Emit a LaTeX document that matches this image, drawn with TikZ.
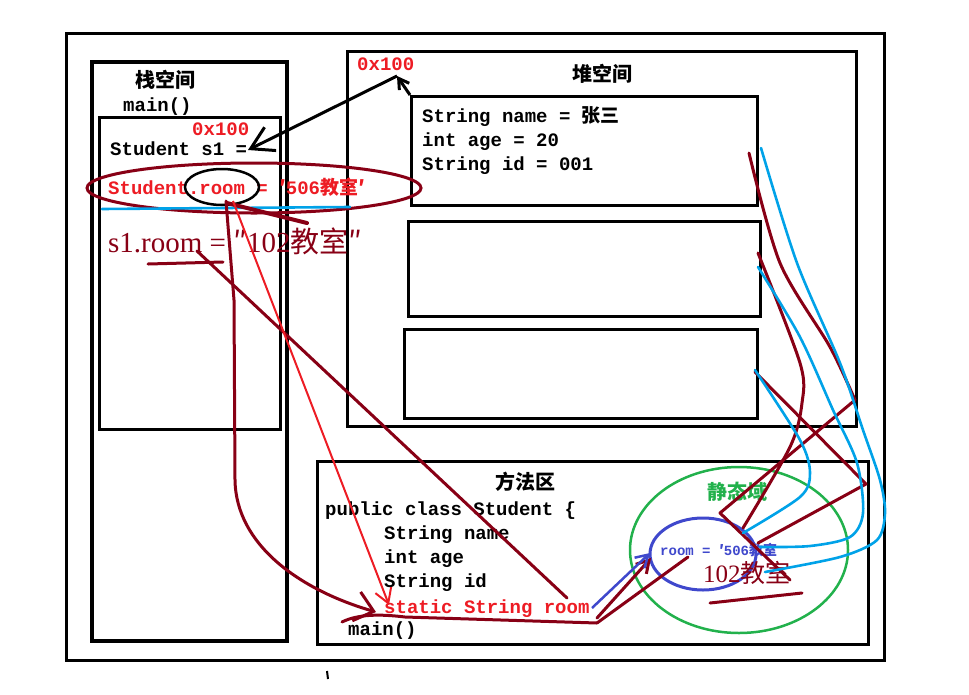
\documentclass[tikz,border=0pt]{standalone}
\usepackage{fontspec}
\setmainfont{Liberation Serif}
\setmonofont{Liberation Mono}
\newfontfamily\cjk{Noto Sans CJK SC}
\usetikzlibrary{shapes.geometric,arrows.meta,positioning,calc}
\definecolor{dkred}{HTML}{880015}
\definecolor{pred}{HTML}{ED1C24}
\definecolor{sky}{HTML}{00A2E8}
\definecolor{ink}{HTML}{3F48CC}
\definecolor{leaf}{HTML}{22B14C}
\newcommand\zh[1]{{\cjk #1}}

\begin{document}
\begin{tikzpicture}[x=1pt,y=-1pt,
    box/.style={draw=black, line width=3pt, rectangle, inner sep=0pt, anchor=north west},
    code/.style={font=\fontsize{19}{24}\selectfont\ttfamily\bfseries, anchor=base west, inner sep=0pt},
    title/.style={font=\cjk\bfseries\fontsize{20}{24}\selectfont, inner sep=0pt},
    hand/.style={font=\fontsize{29}{31}\selectfont, text=dkred, anchor=base west, inner sep=0pt},
    pen/.style={draw=dkred, line width=3pt, line cap=round, line join=round},
    sketch/.style={draw=sky, line width=2.6pt, line cap=round, line join=round},
    barb/.style={-{Straight Barb[length=#1, width=1.2*#1]}}
]
\useasboundingbox (0,0) rectangle (969,694);

\node[box, minimum width=818, minimum height=627] (frame) at (65,32) {};
\node[box, line width=3.5pt, minimum width=195, minimum height=579] (stack) at (90,60) {};
\node[box, minimum width=181, minimum height=312] (mainframe) at (98,116) {};
\node[box, minimum width=509, minimum height=375] (heap) at (346,50) {};
\node[box, minimum width=346, minimum height=109] (obj1) at (410,95) {};
\node[box, minimum width=352, minimum height=95] (obj2) at (407,220) {};
\node[box, minimum width=353, minimum height=89] (obj3) at (403,328) {};
\node[box, minimum width=551, minimum height=183] (method) at (316,460) {};

\node[title] (stacktitle) at (165,80) {栈空间};
\node[code] (stackmain) at (123,111) {main()};
\node[code, text=pred] (addr1) at (192,135) {0x100};
\node[code] (s1) at (110,155) {Student s1 =};
\node[code, text=pred] (sroom) at (108,194) {Student.room = \zh{′}506\zh{教室′}};
\node[hand] (s1room) at (108,252) {s1.room = \zh{″}102\zh{教室″}};

\node[code, text=pred] (addr2) at (357,70) {0x100};
\node[title] (heaptitle) at (602,74) {堆空间};
\node[code] (name) at (422,122) {String name = \zh{张三}};
\node[code] (age) at (422,146) {int age = 20};
\node[code] (id) at (422,170) {String id = 001};

\node[title] (methodtitle) at (525,482) {方法区};
\node[code] (cls) at (325,515) {public class Student \{};
\node[code] (fname) at (384,539) {String name};
\node[code] (fage) at (384,563) {int age};
\node[code] (fid) at (384,587) {String id};
\node[code, text=pred] (froom) at (384,613) {static String room};
\node[code] (mmain) at (348,635) {main()};

\node[ellipse, draw=leaf, line width=2.5pt, minimum width=218, minimum height=166] (staticarea) at (739,550) {};
\node[title, text=leaf] (statictitle) at (737,492) {静态域};
\node[ellipse, draw=ink, line width=3pt, minimum width=106, minimum height=72] (slot) at (703,554) {};
\node[code, text=ink, font=\fontsize{14}{16}\selectfont\ttfamily\bfseries] (slotval) at (660,555) {room = \zh{′}506\zh{教室}};
\node[hand, font=\fontsize{25}{28}\selectfont] (newval) at (703,582) {102\zh{教室}};

\node[ellipse, draw=dkred, line width=3pt, minimum width=334, minimum height=50] (ring) at (254,188) {};
\node[ellipse, draw=black, line width=2.5pt, minimum width=74, minimum height=36] (hole) at (222,187) {};

\coordinate (apex) at (397,76);
\coordinate (s1tip) at (248,150);
\coordinate (holefoot) at (226,201);
\coordinate (redfoot) at (233,201);
\coordinate (froomtip) at (376,612);
\coordinate (redtip) at (389,605);
\coordinate (s1foot) at (197,251);
\coordinate (roomend) at (567,598);
\coordinate (roomtail) at (592,608);
\coordinate (mainleft) at (342,622);
\coordinate (hub) at (597,623);
\coordinate (slotin) at (688,557);
\coordinate (slottip) at (651,558);
\coordinate (slotedge) at (650,553);

\draw[line width=3pt, barb=10pt] (obj1.north west) -- (apex);
\draw[line width=3pt, -{Straight Barb[length=22pt,width=26pt]}] (apex) -- (s1tip);

\draw[sketch] (102,209) -- (350,207);
\draw[pen, line width=4pt] (227,203) -- (307,223);
\draw[pen] (148,264) -- (223,262);
\draw[pen] (s1foot) -- (roomend);
\draw[draw=pred, line width=2pt, barb=14pt] (redfoot) -- (redtip);
\draw[pen, -{Straight Barb[length=18pt,width=30pt]}] (holefoot) -- (234,300) -- (235,480) .. controls (236,545) and (300,590) .. (froomtip);
\draw[pen] (mainleft) .. controls (358,614) and (380,614) .. (405,617) -- (hub);
\draw[pen] (hub) -- (slotin);
\draw[pen, barb=12pt] ($(hub)+(0,-5)$) -- (slottip);
\draw[draw=ink, line width=2.5pt, barb=12pt] (roomtail) -- (slotedge);
\draw[pen] (710,603) -- (802,593);

\draw[pen] plot[smooth, tension=0.5] coordinates {(749,153) (780,263) (830,347) (855,400)} -- (720,513) -- (790,580);
\draw[pen] plot[smooth, tension=0.5] coordinates {(758,253) (800,363) (802,403) (790,447) (743,528)};
\draw[pen] (755,372) -- (866,484) -- (758,543);
\draw[sketch] plot[smooth, tension=0.5] coordinates {(761,148) (797,263) (840,363) (863,430) (880,480) (885,513) (877,540) (840,557) (765,572)};
\draw[sketch] plot[smooth, tension=0.5] coordinates {(758,267) (800,337) (833,410) (857,463) (863,513) (850,537) (810,546) (760,547)};
\draw[sketch] plot[smooth, tension=0.5] coordinates {(755,370) (800,440) (810,473) (800,497) (743,533)};

\draw[line width=2pt] (327,671) -- (328,679);

\end{tikzpicture}
\end{document}
